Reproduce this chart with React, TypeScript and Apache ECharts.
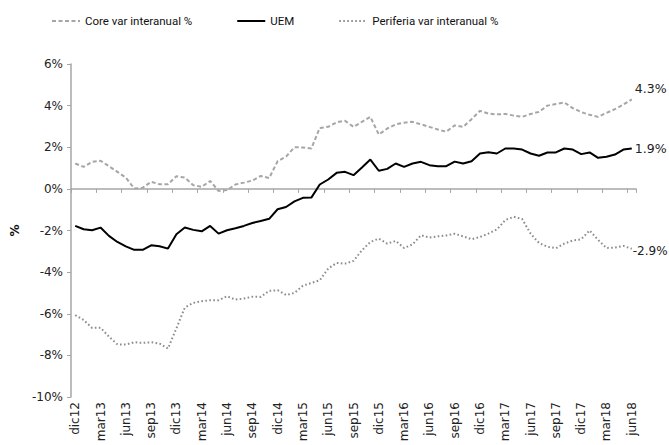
import React, { useEffect, useRef } from "react";
import * as echarts from "echarts";

const categories = [
  "dic12",
  "ene13", "feb13", "mar13", "abr13", "may13", "jun13", "jul13", "ago13", "sep13", "oct13", "nov13", "dic13",
  "ene14", "feb14", "mar14", "abr14", "may14", "jun14", "jul14", "ago14", "sep14", "oct14", "nov14", "dic14",
  "ene15", "feb15", "mar15", "abr15", "may15", "jun15", "jul15", "ago15", "sep15", "oct15", "nov15", "dic15",
  "ene16", "feb16", "mar16", "abr16", "may16", "jun16", "jul16", "ago16", "sep16", "oct16", "nov16", "dic16",
  "ene17", "feb17", "mar17", "abr17", "may17", "jun17", "jul17", "ago17", "sep17", "oct17", "nov17", "dic17",
  "ene18", "feb18", "mar18", "abr18", "may18", "jun18",
];

const coreValues = [
  1.22, 1.06, 1.30, 1.35, 1.09, 0.82, 0.54, 0.02, 0.05, 0.34, 0.22, 0.22, 0.61,
  0.54, 0.18, 0.10, 0.38, -0.10, -0.06, 0.21, 0.30, 0.40, 0.62, 0.52, 1.33,
  1.55, 2.0, 1.99, 1.94, 2.93, 2.98, 3.2, 3.27, 2.98, 3.22, 3.46, 2.61,
  2.9, 3.1, 3.18, 3.22, 3.1, 2.98, 2.85, 2.75, 3.05, 2.98, 3.35, 3.75,
  3.62, 3.58, 3.6, 3.52, 3.46, 3.6, 3.7, 4.0, 4.08, 4.15, 3.88, 3.69,
  3.56, 3.46, 3.65, 3.83, 4.05, 4.3,
];

const uemValues = [
  -1.78, -1.94, -1.99, -1.86, -2.26, -2.55, -2.76, -2.93, -2.93, -2.71, -2.76, -2.87, -2.18,
  -1.86, -1.97, -2.04, -1.78, -2.15, -1.99, -1.89, -1.78, -1.64, -1.54, -1.44, -0.98,
  -0.87, -0.6, -0.43, -0.42, 0.21, 0.45, 0.77, 0.82, 0.66, 1.03, 1.41, 0.87,
  0.96, 1.22, 1.06, 1.22, 1.30, 1.14, 1.09, 1.09, 1.31, 1.22, 1.33, 1.70,
  1.76, 1.70, 1.94, 1.94, 1.89, 1.70, 1.59, 1.75, 1.75, 1.94, 1.89, 1.67,
  1.75, 1.49, 1.54, 1.65, 1.89, 1.94,
];

const periferiaValues = [
  -6.07, -6.3, -6.68, -6.67, -7.1, -7.47, -7.48, -7.37, -7.4, -7.37, -7.43, -7.67, -6.7,
  -5.7, -5.48, -5.4, -5.35, -5.35, -5.16, -5.32, -5.27, -5.18, -5.19, -4.9, -4.87,
  -5.1, -5.0, -4.65, -4.52, -4.39, -3.83, -3.56, -3.59, -3.46, -2.95, -2.55, -2.39,
  -2.63, -2.5, -2.84, -2.67, -2.23, -2.34, -2.28, -2.24, -2.16, -2.28, -2.42, -2.31,
  -2.15, -1.95, -1.5, -1.34, -1.45, -2.15, -2.6, -2.78, -2.85, -2.63, -2.48, -2.42,
  -2.0, -2.45, -2.84, -2.82, -2.74, -2.88,
];

const seriesNames = ["Core var interanual %", "UEM", "Periferia var interanual %"];

const FONT = "DejaVu Sans";

export default function App() {
  const ref = useRef<HTMLDivElement>(null);

  useEffect(() => {
    if (!ref.current) return;
    const chart = echarts.init(ref.current, null, { renderer: "svg" });
    const endFmt = (p: any) => {
      const v = Array.isArray(p.value) ? p.value[p.value.length - 1] : p.value;
      return Number(v).toFixed(1) + "%";
    };
    chart.setOption({
      animation: false,
      backgroundColor: "#ffffff",
      textStyle: { fontFamily: FONT },
      legend: {
        top: 10,
        left: 46,
        itemGap: 44,
        itemWidth: 28,
        itemHeight: 10,
        itemStyle: { opacity: 0 },
        textStyle: { fontFamily: "Roboto", fontSize: 11.5, color: "#111" },
        data: seriesNames,
      },
      grid: { left: 71, right: 33, top: 64, bottom: 48, containLabel: false },
      xAxis: [
        {
          type: "category",
          data: categories,
          boundaryGap: true,
          position: "bottom",
          axisLine: { show: false, onZero: false },
          axisTick: { show: false },
          axisLabel: {
            interval: 2,
            rotate: 90,
            margin: 5,
            fontFamily: FONT,
            fontSize: 12,
            color: "#222",
          },
          splitLine: { show: false },
        },
        {
          type: "category",
          data: categories,
          boundaryGap: true,
          position: "bottom",
          axisLine: { show: true, onZero: true, lineStyle: { color: "#a6a6a6", width: 1.5 } },
          axisTick: { show: true, interval: 2, length: 4, lineStyle: { color: "#a6a6a6", width: 1 } },
          axisLabel: { show: false },
          splitLine: { show: false },
        },
      ],
      yAxis: {
        type: "value",
        min: -10,
        max: 6,
        interval: 2,
        name: "%",
        nameLocation: "middle",
        nameRotate: 90,
        nameGap: 48,
        nameTextStyle: { fontFamily: FONT, fontWeight: "bold", fontSize: 12, color: "#111" },
        axisLine: { show: true, lineStyle: { color: "#a6a6a6", width: 1.5 } },
        axisTick: { show: true, length: 4, lineStyle: { color: "#a6a6a6" } },
        axisLabel: {
          formatter: "{value}%",
          fontFamily: FONT,
          fontSize: 12,
          color: "#222",
          margin: 8,
        },
        splitLine: { show: false },
      },
      series: [
        {
          name: seriesNames[0],
          type: "line",
          xAxisIndex: 0,
          data: coreValues,
          symbol: "none",
          lineStyle: { color: "#a6a6a6", width: 2, type: [4, 2.5] },
          itemStyle: { color: "#a6a6a6" },
          endLabel: {
            show: true,
            formatter: endFmt,
            offset: [0, -11],
            distance: 3,
            fontFamily: FONT,
            fontSize: 12.5,
            color: "#222",
          },
          z: 2,
        },
        {
          name: seriesNames[1],
          type: "line",
          xAxisIndex: 0,
          data: uemValues,
          symbol: "none",
          lineStyle: { color: "#000000", width: 2 },
          itemStyle: { color: "#000000" },
          endLabel: {
            show: true,
            formatter: endFmt,
            distance: 3,
            fontFamily: FONT,
            fontSize: 12.5,
            color: "#222",
          },
          z: 3,
        },
        {
          name: seriesNames[2],
          type: "line",
          xAxisIndex: 0,
          data: periferiaValues,
          symbol: "none",
          lineStyle: { color: "#8c8c8c", width: 2, type: [1.6, 2.4] },
          itemStyle: { color: "#8c8c8c" },
          endLabel: {
            show: true,
            formatter: endFmt,
            offset: [0, 2],
            distance: 1,
            fontFamily: FONT,
            fontSize: 12,
            color: "#222",
          },
          z: 2,
        },
      ],
    });
    return () => {
      chart.dispose();
    };
  }, []);

  return (
    <div
      ref={ref}
      style={{ position: "absolute", left: 0, top: 0, width: 669, height: 445, background: "#fff" }}
    />
  );
}
